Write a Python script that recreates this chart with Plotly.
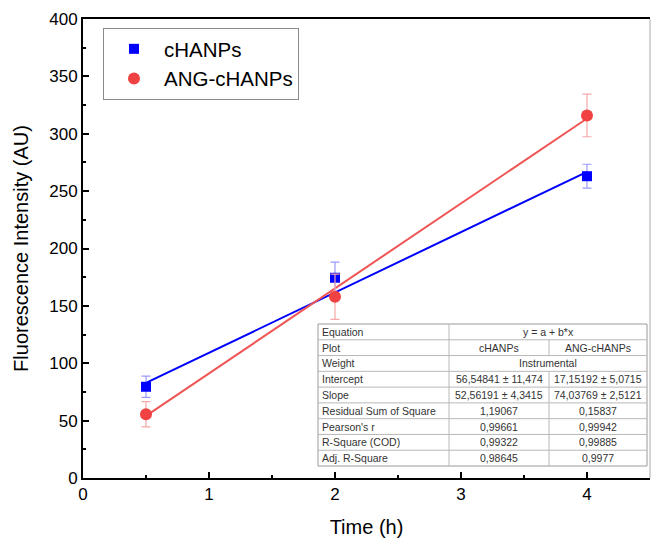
import plotly.graph_objects as go

# ---- data ----
time_h = [0.5, 2, 4]
chanps = [79.5, 174.5, 263.0]
chanps_err = [9.3, 13.6, 10.4]
ang_chanps = [55.5, 158.0, 316.0]
ang_err = [11.0, 19.7, 18.6]

fit_x = [0.5, 4]
chanps_fit = (56.54841, 52.56191)   # intercept, slope
ang_fit = (17.15192, 74.03769)

table_rows = ["Equation", "Plot", "Weight", "Intercept", "Slope",
              "Residual Sum of Square", "Pearson's r", "R-Square (COD)", "Adj. R-Square"]
table_col1 = ["y = a + b*x", "cHANPs", "Instrumental", "56,54841 ± 11,474", "52,56191 ± 4,3415",
              "1,19067", "0,99661", "0,99322", "0,98645"]
table_col2 = [None, "ANG-cHANPs", None, "17,15192 ± 5,0715", "74,03769 ± 2,5121",
              "0,15837", "0,99942", "0,99885", "0,9977"]

BLUE = "#0000ff"
RED = "#f04242"
FONT = "Liberation Sans, Arial, sans-serif"

fig = go.Figure()

fig.add_trace(go.Scatter(x=fit_x, y=[chanps_fit[0] + chanps_fit[1] * v for v in fit_x],
                         mode="lines", line=dict(color=BLUE, width=2), showlegend=False,
                         hoverinfo="skip"))
fig.add_trace(go.Scatter(x=fit_x, y=[ang_fit[0] + ang_fit[1] * v for v in fit_x],
                         mode="lines", line=dict(color="#f05555", width=2), showlegend=False,
                         hoverinfo="skip"))

fig.add_trace(go.Scatter(x=time_h, y=chanps, mode="markers", name="cHANPs",
                         marker=dict(symbol="square", size=10, color=BLUE),
                         error_y=dict(type="data", array=chanps_err, color="#9a9aff",
                                      thickness=1.2, width=4.5)))
fig.add_trace(go.Scatter(x=time_h, y=ang_chanps, mode="markers", name="ANG-cHANPs",
                         marker=dict(symbol="circle", size=12, color=RED),
                         error_y=dict(type="data", array=ang_err, color="#f7a8a8",
                                      thickness=1.2, width=4.5)))

FW, FH = 651, 545
L, R, T, B = 83, 650, 19, 478   # plot area in window pixels
W, H = R - L, B - T
def px(x):
    return (x - L) / W
def py(y):
    return (B - y) / H

tx0, tx1, tx2, tx3 = 318, 449, 549, 647
ty0, ty1 = 324, 466
nrows = len(table_rows)
rh = (ty1 - ty0) / nrows
shapes = []
shapes.append(dict(type="rect", xref="paper", yref="paper", x0=px(tx0), x1=px(tx3),
                   y0=py(ty1), y1=py(ty0), fillcolor="white",
                   line=dict(color="#9a9a9a", width=1), layer="above"))
GRID = dict(color="#b8b8b8", width=1)
for i in range(1, nrows):
    yy = ty0 + i * rh
    shapes.append(dict(type="line", xref="paper", yref="paper", x0=px(tx0), x1=px(tx3),
                       y0=py(yy), y1=py(yy), line=GRID, layer="above"))
shapes.append(dict(type="line", xref="paper", yref="paper", x0=px(tx1), x1=px(tx1),
                   y0=py(ty1), y1=py(ty0), line=GRID, layer="above"))
for i in range(nrows):
    if table_col2[i] is not None:
        shapes.append(dict(type="line", xref="paper", yref="paper", x0=px(tx2), x1=px(tx2),
                           y0=py(ty0 + (i + 1) * rh), y1=py(ty0 + i * rh), line=GRID,
                           layer="above"))
# right frame line (gray)
shapes.append(dict(type="line", xref="paper", yref="paper", x0=1, x1=1, y0=0, y1=1,
                   line=dict(color="#aaaaaa", width=1)))

annotations = []
TF = dict(family=FONT, size=10.5, color="#333333")
for i in range(nrows):
    yc = py(ty0 + (i + 0.5) * rh)
    annotations.append(dict(x=px(tx0 + 2), y=yc, xref="paper", yref="paper",
                            text=table_rows[i], showarrow=False, xanchor="left",
                            yanchor="middle", font=TF))
    if table_col2[i] is None:
        annotations.append(dict(x=px((tx1 + tx3) / 2), y=yc, xref="paper", yref="paper",
                                text=table_col1[i], showarrow=False, xanchor="center",
                                yanchor="middle", font=TF))
    else:
        annotations.append(dict(x=px((tx1 + tx2) / 2), y=yc, xref="paper", yref="paper",
                                text=table_col1[i], showarrow=False, xanchor="center",
                                yanchor="middle", font=TF))
        annotations.append(dict(x=px((tx2 + tx3) / 2), y=yc, xref="paper", yref="paper",
                                text=table_col2[i], showarrow=False, xanchor="center",
                                yanchor="middle", font=TF))

fig.update_layout(
    width=FW, height=FH,
    margin=dict(l=L, r=FW - R, t=T, b=FH - B, autoexpand=False),
    paper_bgcolor="white", plot_bgcolor="white",
    font=dict(family=FONT, color="black"),
    showlegend=True,
    legend=dict(x=px(103), y=py(28), xanchor="left", yanchor="top",
                bordercolor="#8a8a8a", borderwidth=1, bgcolor="white",
                font=dict(size=20.5, family=FONT), itemwidth=50,
                tracegroupgap=0),
    shapes=shapes,
    annotations=annotations,
    xaxis=dict(range=[0, 4.5], dtick=1, tick0=0, showgrid=False, zeroline=False,
               showline=True, linecolor="black", linewidth=2, mirror=True,
               automargin=False,
               ticks="inside", ticklen=6, tickwidth=1.5, tickcolor="black",
               minor=dict(ticks="inside", ticklen=3, dtick=0.5, tickcolor="black", tickwidth=1.5),
               tickfont=dict(size=17, family=FONT),
               title=dict(text="Time (h)", font=dict(size=20, family=FONT), standoff=17)),
    yaxis=dict(range=[0, 400], dtick=50, tick0=0, showgrid=False, zeroline=False,
               showline=True, linecolor="black", linewidth=2,
               automargin=False,
               ticks="inside", ticklen=6, tickwidth=1.5, tickcolor="black",
               minor=dict(ticks="inside", ticklen=3, dtick=25, tickcolor="black", tickwidth=1.5),
               tickfont=dict(size=17, family=FONT),
               title=dict(text="Fluorescence Intensity (AU)", font=dict(size=20, family=FONT),
                          standoff=15)),
)

fig.write_html("out.html", config={"displayModeBar": False},
               post_script="document.body.style.margin='0';document.body.style.overflow='hidden';")
